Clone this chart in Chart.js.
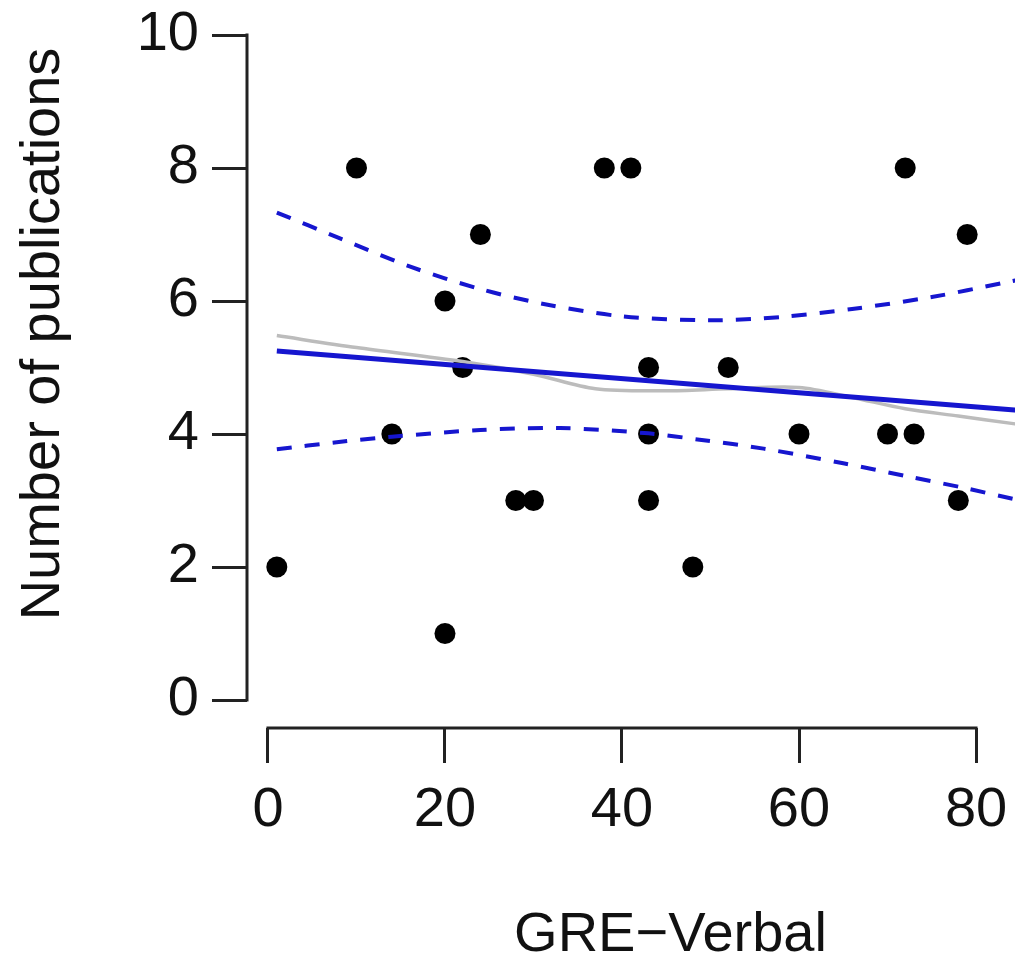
<!DOCTYPE html>
<html>
<head>
<meta charset="utf-8">
<script src="https://cdn.jsdelivr.net/npm/chart.js@4/dist/chart.umd.min.js"></script>
<style>
  html, body { margin: 0; padding: 0; background: #fff; overflow: hidden; width: 1015px; height: 960px; }
  #wrap { position: absolute; left: 0; top: -80px; }
</style>
</head>
<body>
<div id="wrap"><canvas id="pubChart" width="1094" height="1060"></canvas></div>
<script>
/* ── Data ── */
const gre  = [1, 10, 14, 20, 20, 22, 24, 28, 30, 38, 41, 43, 43, 43, 48, 52, 60, 70, 72, 73, 78, 79];
const pubs = [2, 8, 4, 6, 1, 5, 7, 3, 3, 8, 8, 5, 4, 3, 2, 5, 4, 4, 8, 4, 3, 7];

// fitted regression line
const fitX = [1, 90];
const fitY = [5.25, 4.30];

// lowess smoother
const smoothX = [1, 10, 22, 30, 37, 45, 52, 60, 66, 72, 78, 84, 90];
const smoothY = [5.48, 5.30, 5.09, 4.90, 4.68, 4.65, 4.68, 4.70, 4.55, 4.38, 4.27, 4.16, 4.05];

// confidence band
const upperX = [1, 8, 16, 24, 31, 40, 50, 58, 66, 75, 83, 90];
const upperY = [7.33, 6.95, 6.52, 6.18, 5.96, 5.77, 5.71, 5.76, 5.88, 6.06, 6.27, 6.46];
const lowerX = [1, 8, 14, 24, 33, 43, 49, 56, 65, 72, 79, 84, 90];
const lowerY = [3.77, 3.88, 3.96, 4.06, 4.09, 4.01, 3.91, 3.78, 3.56, 3.37, 3.18, 3.03, 2.86];

const xTicks = [0, 20, 40, 60, 80];
const yTicks = [0, 2, 4, 6, 8, 10];

const BLUE = "#1616cf";
const AXIS = "#222";
const FONT = "'Liberation Sans', Arial, Helvetica, sans-serif";

const pairs = (xs, ys) => xs.map((x, i) => ({ x, y: ys[i] }));

/* ── R-style axis lines: only span first..last tick ── */
const axisLines = {
  id: "axisLines",
  beforeDatasetsDraw(chart) {
    const { ctx, chartArea, scales } = chart;
    const { x, y } = scales;
    ctx.save();
    ctx.strokeStyle = AXIS;
    ctx.lineWidth = 3;
    ctx.lineCap = "square";
    ctx.beginPath();
    ctx.moveTo(chartArea.left, y.getPixelForValue(yTicks[0]));
    ctx.lineTo(chartArea.left, y.getPixelForValue(yTicks[yTicks.length - 1]));
    ctx.moveTo(x.getPixelForValue(xTicks[0]), chartArea.bottom);
    ctx.lineTo(x.getPixelForValue(xTicks[xTicks.length - 1]), chartArea.bottom);
    ctx.stroke();
    ctx.restore();
  },
};

const lineSet = (data, color, width, dash, order) => ({
  type: "line",
  data,
  borderColor: color,
  borderWidth: width,
  borderDash: dash,
  pointRadius: 0,
  fill: false,
  tension: 0.3,
  order,
});

// no label overflow padding, the plot region is fixed
const noPad = (s) => {
  s.paddingTop = 0; s.paddingBottom = 0;
  s.paddingLeft = 0; s.paddingRight = 0;
};

new Chart(document.getElementById("pubChart").getContext("2d"), {
  type: "scatter",
  data: {
    datasets: [
      lineSet(pairs(upperX, upperY), BLUE, 4, [15, 13], 0),
      lineSet(pairs(lowerX, lowerY), BLUE, 4, [15, 13], 0),
      lineSet(pairs(fitX, fitY), BLUE, 5, [], 1),
      lineSet(pairs(smoothX, smoothY), "#bcbcbc", 3.5, [], 2),
      {
        data: pairs(gre, pubs),
        pointRadius: 10.5,
        pointBackgroundColor: "#000",
        pointBorderWidth: 0,
        order: 3,
      },
    ],
  },
  options: {
    responsive: false,
    animation: false,
    devicePixelRatio: 1,
    layout: { autoPadding: false, padding: { top: 20, right: 0, bottom: 0, left: 0 } },
    scales: {
      x: {
        type: "linear",
        position: "bottom",
        min: -2.37,
        max: 93.33,
        afterBuildTicks: (s) => { s.ticks = xTicks.map((v) => ({ value: v })); },
        afterFit: (s) => { s.height = 252; noPad(s); },
        border: { display: false },
        grid: { drawOnChartArea: false, drawTicks: true, tickLength: 35, tickColor: AXIS, tickWidth: 3 },
        ticks: { padding: 14, color: "#111", font: { family: FONT, size: 56 } },
        title: {
          display: true,
          text: "GRE\u2212Verbal",
          color: "#111",
          padding: { top: 0, bottom: 11 },
          font: { family: FONT, size: 56 },
        },
      },
      y: {
        type: "linear",
        min: -0.421,
        max: 11.429,
        afterBuildTicks: (s) => { s.ticks = yTicks.map((v) => ({ value: v })); },
        afterFit: (s) => { s.width = 247; noPad(s); },
        border: { display: false },
        grid: { drawOnChartArea: false, drawTicks: true, tickLength: 35, tickColor: AXIS, tickWidth: 3 },
        ticks: { padding: 13, color: "#111", font: { family: FONT, size: 56 } },
        title: {
          display: true,
          text: "Number of publications",
          color: "#111",
          padding: { top: 10, bottom: 0 },
          font: { family: FONT, size: 56 },
        },
      },
    },
    plugins: { legend: { display: false }, tooltip: { enabled: false } },
  },
  plugins: [axisLines],
});
</script>
</body>
</html>
